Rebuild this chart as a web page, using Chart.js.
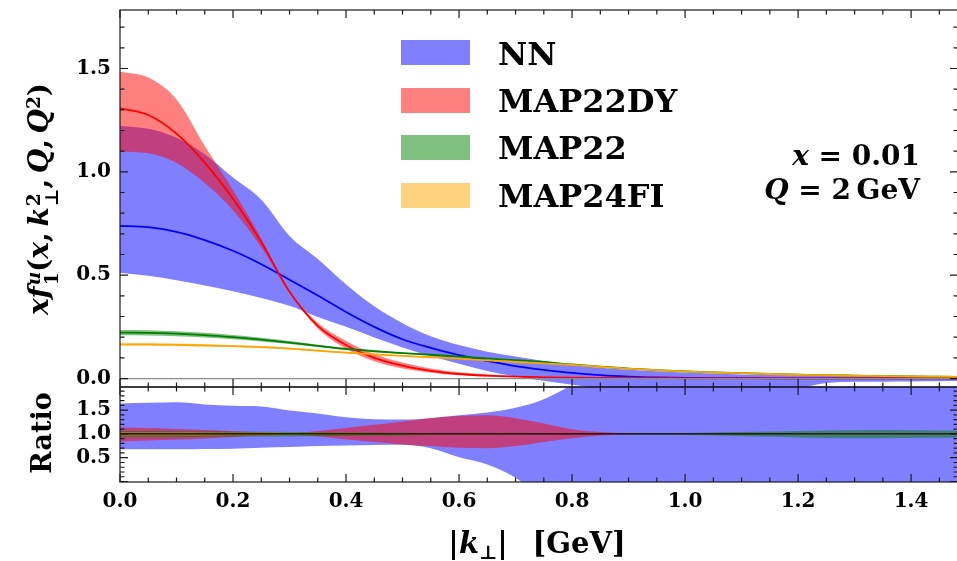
<!DOCTYPE html>
<html>
<head>
<meta charset="utf-8">
<script src="https://cdn.jsdelivr.net/npm/chart.js@4.4.1/dist/chart.umd.min.js"></script>
<style>
  body { margin: 0; background: #fff; }
  #wrap { position: relative; width: 957px; height: 561px; overflow: hidden; background: #fff; }
  canvas { position: absolute; left: 0; }
  .txt { position: absolute; white-space: nowrap; font-family: "DejaVu Serif"; font-weight: bold; color: #000; }
  .leg { font-size: 32px; line-height: 32px; left: 498px; }
  .box { position: absolute; left: 401px; width: 69px; height: 25px; }
  .rot { transform: translate(-50%, -50%) rotate(-90deg); }
  .ctr { transform: translate(-50%, -50%); }
  .ss { display: inline-flex; flex-direction: column; font-size: 0.66em; line-height: 0.95; vertical-align: 0.42em; margin-left: 1px; }
  sup { font-size: 0.66em; line-height: 0; vertical-align: 0.45em; }
  sub { font-size: 0.66em; line-height: 0; vertical-align: -0.3em; }
  .ann { font-size: 28px; line-height: 28px; right: 37px; text-align: right; }
</style>
</head>
<body>
<div id="wrap">
  <canvas id="top" width="962" height="392" style="top:0"></canvas>
  <canvas id="bot" width="962" height="184" style="top:377px"></canvas>

  <div class="box" style="top:40px;background:rgba(0,0,255,0.5)"></div>
  <div class="box" style="top:88px;background:rgba(255,0,0,0.5)"></div>
  <div class="box" style="top:135px;background:rgba(0,128,0,0.5)"></div>
  <div class="box" style="top:183px;background:rgba(255,165,0,0.5)"></div>
  <div class="txt leg" style="top:38px">NN</div>
  <div class="txt leg" style="top:85px">MAP22DY</div>
  <div class="txt leg" style="top:132px">MAP22</div>
  <div class="txt leg" style="top:180px">MAP24FI</div>

  <div class="txt ann" style="top:142px"><i>x</i> = 0.01</div>
  <div class="txt ann" style="top:176px"><i>Q</i> = 2&#8201;GeV</div>

  <div class="txt rot" style="left:41px;top:199px;font-size:28px"><i>x</i><i>f</i><span class="ss"><i>u</i><span>1</span></span>(<i>x</i>,&#8201;<i>k</i><span class="ss"><span>2</span><span>⊥</span></span>,&#8201;<i>Q</i>,&#8201;<i>Q</i><sup>2</sup>)</div>
  <div class="txt rot" style="left:41px;top:433px;font-size:27px">Ratio</div>
  <div class="txt ctr" style="left:537px;top:543px;font-size:29px">|<i>k</i><sub>⊥</sub>| &#8194;[GeV]</div>
</div>

<script>
// transverse momentum grid |k_T| [GeV]
const kT = [0.00, 0.05, 0.10, 0.15, 0.20, 0.25, 0.30, 0.35, 0.40, 0.45,
            0.50, 0.55, 0.60, 0.65, 0.70, 0.75, 0.80, 0.85, 0.90, 0.95,
            1.00, 1.05, 1.10, 1.15, 1.20, 1.25, 1.30, 1.35, 1.40, 1.45, 1.50];

// top panel: x f1^u
const nnMid = [0.739, 0.732, 0.710, 0.670, 0.618, 0.553, 0.478, 0.402, 0.322, 0.250,
               0.190, 0.148, 0.113, 0.085, 0.060, 0.042, 0.027, 0.016, 0.009, 0.005,
               0.003, 0.002, 0.002, 0.001, 0.001, 0.001, 0.001, 0.001, 0.001, 0.001, 0.001];
const nnHi  = [1.222, 1.208, 1.165, 1.085, 0.972, 0.865, 0.690, 0.578, 0.455, 0.350,
               0.268, 0.205, 0.162, 0.130, 0.106, 0.085, 0.066, 0.052, 0.042, 0.035,
               0.029, 0.024, 0.020, 0.017, 0.014, 0.012, 0.010, 0.009, 0.008, 0.007, 0.006];
const nnLo  = [0.512, 0.497, 0.476, 0.450, 0.422, 0.390, 0.352, 0.298, 0.250, 0.198,
               0.150, 0.108, 0.072, 0.037, 0.010, -0.011, -0.030, -0.045, -0.050, -0.050,
               -0.050, -0.050, -0.050, -0.048, -0.045, -0.022, -0.016, -0.015, -0.014, -0.013, -0.012];

const dyMid = [1.307, 1.275, 1.185, 1.045, 0.870, 0.660, 0.420, 0.255, 0.162, 0.100,
               0.062, 0.037, 0.022, 0.014, 0.009, 0.006, 0.004, 0.003, 0.002, 0.002,
               0.001, 0.001, 0.001, 0.001, 0.001, 0.001, 0.001, 0.001, 0.001, 0.001, 0.001];
const dyHi  = [1.484, 1.456, 1.350, 1.125, 0.912, 0.678, 0.424, 0.270, 0.182, 0.119,
               0.078, 0.049, 0.030, 0.019, 0.012, 0.0075, 0.0045, 0.003, 0.002, 0.002,
               0.001, 0.001, 0.001, 0.001, 0.001, 0.001, 0.001, 0.001, 0.001, 0.001, 0.001];
const dyLo  = [1.097, 1.090, 1.043, 0.946, 0.814, 0.635, 0.416, 0.242, 0.144, 0.083,
               0.048, 0.028, 0.016, 0.010, 0.007, 0.005, 0.0035, 0.003, 0.002, 0.002,
               0.001, 0.001, 0.001, 0.001, 0.001, 0.001, 0.001, 0.001, 0.001, 0.001, 0.001];

const m22Mid = [0.222, 0.221, 0.217, 0.210, 0.200, 0.188, 0.174, 0.158, 0.143, 0.132,
                0.123, 0.115, 0.106, 0.097, 0.089, 0.080, 0.068, 0.058, 0.048, 0.041,
                0.035, 0.030, 0.026, 0.022, 0.019, 0.016, 0.014, 0.012, 0.010, 0.009, 0.008];
const m22Hi  = [0.235, 0.234, 0.229, 0.221, 0.210, 0.197, 0.181, 0.164, 0.148, 0.136,
                0.126, 0.117, 0.107, 0.098, 0.090, 0.080, 0.068, 0.058, 0.048, 0.041,
                0.036, 0.031, 0.027, 0.023, 0.020, 0.017, 0.015, 0.013, 0.011, 0.010, 0.009];
const m22Lo  = [0.209, 0.208, 0.205, 0.199, 0.190, 0.179, 0.167, 0.152, 0.138, 0.128,
                0.120, 0.113, 0.105, 0.096, 0.088, 0.080, 0.068, 0.058, 0.048, 0.041,
                0.034, 0.029, 0.025, 0.021, 0.018, 0.015, 0.013, 0.011, 0.009, 0.008, 0.007];

const m24Mid = [0.165, 0.165, 0.163, 0.160, 0.157, 0.152, 0.145, 0.135, 0.125, 0.117,
                0.110, 0.103, 0.096, 0.088, 0.080, 0.073, 0.066, 0.057, 0.048, 0.041,
                0.035, 0.030, 0.026, 0.022, 0.019, 0.016, 0.014, 0.012, 0.010, 0.009, 0.008];
const m24Hi  = [0.171, 0.171, 0.169, 0.166, 0.162, 0.157, 0.149, 0.139, 0.128, 0.120,
                0.112, 0.105, 0.098, 0.089, 0.081, 0.074, 0.067, 0.058, 0.049, 0.042,
                0.036, 0.031, 0.027, 0.023, 0.020, 0.017, 0.015, 0.013, 0.011, 0.010, 0.009];
const m24Lo  = [0.159, 0.159, 0.157, 0.154, 0.152, 0.147, 0.141, 0.131, 0.122, 0.114,
                0.108, 0.101, 0.094, 0.087, 0.079, 0.072, 0.065, 0.056, 0.047, 0.040,
                0.034, 0.029, 0.025, 0.021, 0.018, 0.015, 0.013, 0.011, 0.009, 0.008, 0.007];

// bottom panel: ratio to central value
const nnRHi = [1.64, 1.655, 1.665, 1.62, 1.59, 1.575, 1.49, 1.43, 1.35, 1.31,
               1.30, 1.33, 1.39, 1.45, 1.55, 1.73, 2.03, 2.40, 2.80, 3.00,
               3.00, 3.00, 3.00, 3.00, 3.00, 3.00, 3.00, 3.00, 3.00, 3.00, 3.00];
const nnRLo = [0.68, 0.68, 0.68, 0.685, 0.69, 0.71, 0.725, 0.745, 0.755, 0.765,
               0.77, 0.70, 0.51, 0.36, 0.08, -0.40, -0.90, -1.0, -1.0, -1.0,
               -1.0, -1.0, -1.0, -1.0, -1.0, -1.0, -1.0, -1.0, -1.0, -1.0, -1.0];
const dyRHi = [1.135, 1.125, 1.105, 1.08, 1.055, 1.03, 1.01, 1.06, 1.125, 1.19,
               1.26, 1.335, 1.375, 1.39, 1.33, 1.22, 1.10, 1.04, 1.015, 1.005,
               1.0, 1.0, 1.0, 1.0, 1.0, 1.0, 1.0, 1.0, 1.0, 1.0, 1.0];
const dyRLo = [0.84, 0.86, 0.88, 0.905, 0.935, 0.96, 0.99, 0.95, 0.885, 0.83,
               0.78, 0.745, 0.71, 0.70, 0.745, 0.83, 0.91, 0.965, 0.99, 0.998,
               1.0, 1.0, 1.0, 1.0, 1.0, 1.0, 1.0, 1.0, 1.0, 1.0, 1.0];
const m22RHi = [1.06, 1.06, 1.058, 1.055, 1.05, 1.046, 1.042, 1.038, 1.033, 1.028,
                1.022, 1.017, 1.013, 1.010, 1.007, 1.005, 1.004, 1.005, 1.008, 1.012,
                1.018, 1.027, 1.038, 1.050, 1.062, 1.072, 1.078, 1.080, 1.078, 1.074, 1.070];
const m22RLo = [0.93, 0.93, 0.932, 0.935, 0.94, 0.944, 0.948, 0.953, 0.958, 0.963,
                0.969, 0.975, 0.980, 0.984, 0.988, 0.991, 0.993, 0.992, 0.989, 0.984,
                0.977, 0.966, 0.952, 0.938, 0.925, 0.915, 0.910, 0.910, 0.913, 0.917, 0.920];
const m24RHi = [1.035, 1.035, 1.034, 1.032, 1.030, 1.028, 1.026, 1.024, 1.022, 1.020,
                1.018, 1.016, 1.014, 1.012, 1.010, 1.009, 1.008, 1.008, 1.008, 1.009,
                1.010, 1.011, 1.013, 1.014, 1.016, 1.017, 1.018, 1.018, 1.018, 1.018, 1.018];
const m24RLo = [0.965, 0.965, 0.966, 0.968, 0.970, 0.972, 0.974, 0.976, 0.978, 0.980,
                0.982, 0.984, 0.986, 0.988, 0.990, 0.991, 0.992, 0.992, 0.992, 0.991,
                0.990, 0.989, 0.987, 0.986, 0.984, 0.983, 0.982, 0.982, 0.982, 0.982, 0.982];

// tick labels
const kTicks = [0.0, 0.2, 0.4, 0.6, 0.8, 1.0, 1.2, 1.4];
const topTicks = [0.0, 0.5, 1.0, 1.5];
const ratioTicks = [0.5, 1.0, 1.5];

const BLUE = 'rgba(0,0,255,0.5)', RED = 'rgba(255,0,0,0.5)';
const GREEN = 'rgba(0,128,0,0.5)', ORANGE = 'rgba(255,165,0,0.5)';

function pts(ys) {
    return kT.map((x, i) => ({ x: x, y: ys[i] }));
}

function band(lo, hi, color, order) {
    return [
        { data: pts(lo), borderWidth: 0, borderColor: 'transparent', fill: false, order: order },
        { data: pts(hi), borderWidth: 0, borderColor: 'transparent', backgroundColor: color, fill: '-1', order: order }
    ];
}

function line(ys, color, order) {
    return { data: pts(ys), borderColor: color, borderWidth: 1.8, fill: false, order: order };
}

// frame, inward ticks on all four sides and a reference line
const frameTicks = {
    id: 'frameTicks',
    afterDatasetsDraw(chart, args, opts) {
        const { ctx, chartArea: a } = chart;
        const x = chart.scales.x, y = chart.scales.y;
        ctx.save();
        ctx.beginPath();
        ctx.rect(a.left, a.top, a.right - a.left, a.bottom - a.top);
        ctx.clip();
        ctx.strokeStyle = opts.refColor;
        ctx.lineWidth = opts.refWidth;
        const ry = y.getPixelForValue(opts.ref);
        ctx.beginPath();
        ctx.moveTo(a.left, ry);
        ctx.lineTo(a.right, ry);
        ctx.stroke();
        ctx.restore();

        ctx.save();
        ctx.strokeStyle = '#1a1a1a';
        ctx.lineWidth = 1.2;
        ctx.strokeRect(a.left, a.top, a.right - a.left, a.bottom - a.top);
        ctx.beginPath();
        for (let i = 0; i * 0.05 <= x.max + 1e-9; i++) {
            const px = x.getPixelForValue(i * 0.05);
            const len = i % 4 === 0 ? 8 : 4.5;
            ctx.moveTo(px, a.bottom); ctx.lineTo(px, a.bottom - len);
            ctx.moveTo(px, a.top); ctx.lineTo(px, a.top + len);
        }
        for (let j = Math.ceil(y.min * 10); j / 10 <= y.max + 1e-9; j++) {
            const py = y.getPixelForValue(j / 10);
            const len = j % 5 === 0 ? 8 : 4.5;
            ctx.moveTo(a.left, py); ctx.lineTo(a.left + len, py);
            ctx.moveTo(a.right, py); ctx.lineTo(a.right - len, py);
        }
        ctx.stroke();
        ctx.restore();
    }
};

Chart.defaults.font.family = 'DejaVu Serif';

const tickFont = { family: 'DejaVu Serif', size: 20, weight: 'bold' };

// fixed axis boxes so both panels share the same plot edges
function fixY(s) { s.width = 120; s.paddingTop = 0; s.paddingBottom = 0; }
function fixX(h) { return s => { s.height = h; s.paddingLeft = 0; s.paddingRight = 0; }; }

const common = {
    responsive: false,
    animation: false,
    devicePixelRatio: 1,
    events: [],
    elements: { point: { radius: 0 }, line: { cubicInterpolationMode: 'monotone' } },
};

new Chart(document.getElementById('top'), {
    type: 'line',
    data: {
        datasets: [
            ...band(nnLo, nnHi, BLUE, 9),
            ...band(dyLo, dyHi, RED, 8),
            ...band(m22Lo, m22Hi, GREEN, 7),
            ...band(m24Lo, m24Hi, ORANGE, 6),
            line(nnMid, '#0000ff', 4),
            line(dyMid, '#ff0000', 3),
            line(m22Mid, '#008000', 2),
            line(m24Mid, '#ffa500', 1)
        ]
    },
    options: {
        ...common,
        layout: { padding: { top: 10, bottom: 5, left: 0, right: 4 } },
        plugins: {
            legend: { display: false },
            tooltip: { enabled: false },
            frameTicks: { ref: 0, refColor: '#8c8c8c', refWidth: 1.2 }
        },
        scales: {
            x: { type: 'linear', min: 0, max: 1.483, display: false },
            y: {
                type: 'linear', min: -0.041, max: 1.783,
                grid: { display: false, drawTicks: false }, border: { display: false },
                afterFit: fixY,
                afterBuildTicks: s => { s.ticks = topTicks.map(v => ({ value: v })); },
                ticks: { font: tickFont, color: '#000', padding: 9, callback: v => v.toFixed(1) }
            }
        }
    },
    plugins: [frameTicks]
});

new Chart(document.getElementById('bot'), {
    type: 'line',
    data: {
        datasets: [
            ...band(nnRLo, nnRHi, BLUE, 9),
            ...band(dyRLo, dyRHi, RED, 8),
            ...band(m22RLo, m22RHi, GREEN, 7),
            ...band(m24RLo, m24RHi, ORANGE, 6)
        ]
    },
    options: {
        ...common,
        layout: { padding: { top: 10, bottom: 0, left: 0, right: 4 } },
        plugins: {
            legend: { display: false },
            tooltip: { enabled: false },
            frameTicks: { ref: 1, refColor: '#000', refWidth: 1.4 }
        },
        scales: {
            x: {
                type: 'linear', min: 0, max: 1.483,
                grid: { display: false, drawTicks: false }, border: { display: false },
                afterFit: fixX(79),
                afterBuildTicks: s => { s.ticks = kTicks.map(v => ({ value: v })); },
                ticks: { font: tickFont, color: '#000', padding: 8, maxRotation: 0, callback: v => v.toFixed(1) }
            },
            y: {
                type: 'linear', min: -0.01, max: 1.985,
                grid: { display: false, drawTicks: false }, border: { display: false },
                afterFit: fixY,
                afterBuildTicks: s => { s.ticks = ratioTicks.map(v => ({ value: v })); },
                ticks: { font: tickFont, color: '#000', padding: 9, callback: v => v.toFixed(1) }
            }
        }
    },
    plugins: [frameTicks]
});
</script>
</body>
</html>
